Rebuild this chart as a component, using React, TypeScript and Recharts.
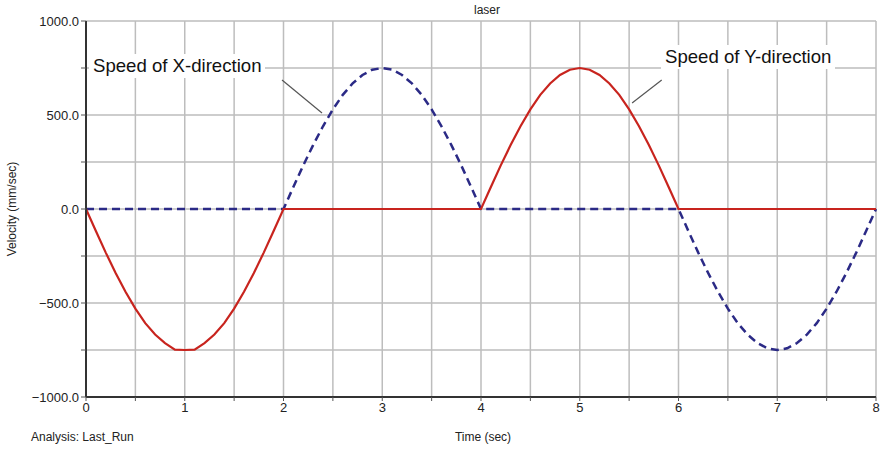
import { LineChart, Line, XAxis, YAxis, CartesianGrid, ReferenceLine } from "recharts";

const time = [
  0, 0.1, 0.2, 0.3, 0.4, 0.5, 0.6, 0.7, 0.8, 0.9, 1, 1.1, 1.2, 1.3, 1.4, 1.5, 1.6, 1.7, 1.8, 1.9,
  2, 2.1, 2.2, 2.3, 2.4, 2.5, 2.6, 2.7, 2.8, 2.9, 3, 3.1, 3.2, 3.3, 3.4, 3.5, 3.6, 3.7, 3.8, 3.9,
  4, 4.1, 4.2, 4.3, 4.4, 4.5, 4.6, 4.7, 4.8, 4.9, 5, 5.1, 5.2, 5.3, 5.4, 5.5, 5.6, 5.7, 5.8, 5.9,
  6, 6.1, 6.2, 6.3, 6.4, 6.5, 6.6, 6.7, 6.8, 6.9, 7, 7.1, 7.2, 7.3, 7.4, 7.5, 7.6, 7.7, 7.8, 7.9, 8,
];

// speed of Y-direction (solid red)
const ySpeed = [
  0, -117, -232, -340, -440, -530, -607, -668, -713, -748, -750, -748, -713, -668, -607, -530, -440, -340, -232, -117,
  0, 0, 0, 0, 0, 0, 0, 0, 0, 0, 0, 0, 0, 0, 0, 0, 0, 0, 0, 0,
  0, 117, 232, 340, 440, 530, 607, 668, 713, 741, 750, 741, 713, 668, 607, 530, 440, 340, 232, 117,
  0, 0, 0, 0, 0, 0, 0, 0, 0, 0, 0, 0, 0, 0, 0, 0, 0, 0, 0, 0, 0,
];

// speed of X-direction (dashed blue)
const xSpeed = [
  0, 0, 0, 0, 0, 0, 0, 0, 0, 0, 0, 0, 0, 0, 0, 0, 0, 0, 0, 0,
  0, 117, 232, 340, 440, 530, 607, 668, 713, 741, 750, 741, 713, 668, 607, 530, 440, 340, 232, 117,
  0, 0, 0, 0, 0, 0, 0, 0, 0, 0, 0, 0, 0, 0, 0, 0, 0, 0, 0, 0,
  0, -117, -232, -340, -440, -530, -607, -668, -713, -741, -750, -741, -713, -668, -607, -530, -440, -340, -232, -117, 0,
];

const xTicks = [0, 0.5, 1, 1.5, 2, 2.5, 3, 3.5, 4, 4.5, 5, 5.5, 6, 6.5, 7, 7.5, 8];
const yTicks = [-1000, -750, -500, -250, 0, 250, 500, 750, 1000];

const data = time.map((t, i) => ({ t, y: ySpeed[i], x: xSpeed[i] }));

const font = "'Liberation Sans', Arial, sans-serif";

const fmtY = (v: number) => {
  if (Math.abs(v) % 500 !== 0) return "";
  const s = Math.abs(v).toFixed(1);
  return v < 0 ? "\u2212" + s : s;
};
const fmtX = (v: number) => (Number.isInteger(v) ? String(v) : "");

export default function App() {
  return (
    <div style={{ position: "absolute", left: 0, top: 0, width: 882, height: 452, background: "#fff", fontFamily: font }}>
      <LineChart width={882} height={452} data={data} margin={{ top: 21, right: 6, bottom: 5, left: 0 }}>
        <CartesianGrid stroke="#bdbdbd" strokeWidth={1.5} />
        <XAxis
          dataKey="t"
          type="number"
          domain={[0, 8]}
          ticks={xTicks}
          tickFormatter={fmtX}
          height={50}
          interval={0}
          axisLine={{ stroke: "#333", strokeWidth: 2 }}
          tickLine={{ stroke: "#555" }}
          tickSize={4}
          tick={{ fontSize: 13, fill: "#222", fontFamily: font }}
        />
        <YAxis
          type="number"
          domain={[-1000, 1000]}
          ticks={yTicks}
          tickFormatter={fmtY}
          width={86}
          interval={0}
          axisLine={{ stroke: "#333", strokeWidth: 2 }}
          tickLine={{ stroke: "#555" }}
          tickSize={5}
          tick={{ fontSize: 13, fill: "#222", fontFamily: font }}
        />
        <ReferenceLine segment={[{ x: 1.985, y: 686 }, { x: 2.39, y: 511 }]} stroke="#555" strokeWidth={1.2} />
        <ReferenceLine segment={[{ x: 5.83, y: 686 }, { x: 5.53, y: 564 }]} stroke="#555" strokeWidth={1.2} />
        <Line type="linear" dataKey="x" stroke="#2b2a86" strokeWidth={2.5} strokeDasharray="8 5" dot={false} isAnimationActive={false} />
        <Line type="linear" dataKey="y" stroke="#c8241e" strokeWidth={2.2} dot={false} isAnimationActive={false} />
      </LineChart>

      <div style={{ position: "absolute", left: 0, width: 882, top: 3, textAlign: "center", fontSize: 12, color: "#222", paddingLeft: 92, boxSizing: "border-box" }}>
        laser
      </div>
      <div style={{ position: "absolute", left: 89, top: 54, padding: "2px 4px", background: "#fff", fontSize: 18.6, lineHeight: "20px", color: "#111" }}>
        Speed of X-direction
      </div>
      <div style={{ position: "absolute", left: 661, top: 45, padding: "2px 4px", background: "#fff", fontSize: 18.6, lineHeight: "20px", color: "#111" }}>
        Speed of Y-direction
      </div>
      <div
        style={{
          position: "absolute",
          left: 12,
          top: 209,
          transform: "translate(-50%, -50%) rotate(-90deg)",
          whiteSpace: "nowrap",
          fontSize: 12,
          color: "#222",
        }}
      >
        Velocity (mm/sec)
      </div>
      <div style={{ position: "absolute", left: 31, top: 430, fontSize: 12, color: "#222" }}>Analysis: Last_Run</div>
      <div style={{ position: "absolute", left: 483, top: 430, transform: "translateX(-50%)", fontSize: 12, color: "#222" }}>
        Time (sec)
      </div>
    </div>
  );
}
